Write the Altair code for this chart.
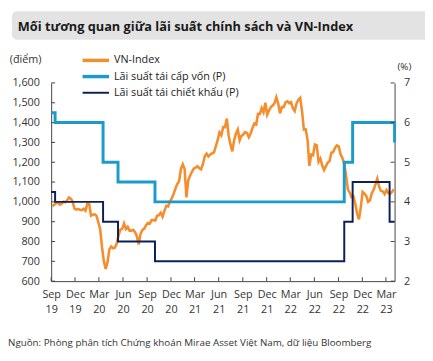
import altair as alt
import pandas as pd

# ---------------- data ----------------
vn_values = [
    # 2019 Sep-Dec
    978, 986, 993, 996, 986, 991, 1001, 998, 1008, 1022, 1016, 1000, 966, 961, 965, 960, 958,
    # 2020
    965, 955, 991, 990, 930, 935, 937, 930, 896, 862, 770, 700, 662,
    696, 760, 775, 766, 769, 790, 830, 860, 864, 891, 863, 874, 855,
    855, 859, 847, 827, 785, 839, 858, 865, 882, 893, 890, 908, 908,
    905, 930, 933, 945, 925, 955, 980, 977, 1003, 1017, 1040, 1067, 1090,
    # 2021
    1104, 1167, 1190, 1166, 1023, 1110, 1132, 1152, 1168, 1172, 1180, 1170, 1164,
    1191, 1231, 1243, 1229, 1239, 1245, 1250, 1280, 1311, 1350, 1336, 1377, 1377,
    1420, 1334, 1290, 1255, 1311, 1345, 1365, 1310, 1333, 1340, 1352, 1348, 1326,
    1345, 1373, 1395, 1390, 1444, 1444, 1473, 1452, 1500, 1440, 1461, 1478, 1486, 1498,
    # 2022
    1528, 1496, 1447, 1478, 1478, 1502, 1507, 1498, 1503, 1472, 1458, 1496,
    1515, 1525, 1458, 1365, 1366, 1313, 1182, 1239, 1235, 1289, 1285, 1202, 1218,
    1183, 1160, 1180, 1198, 1206, 1248, 1252, 1273, 1285, 1280, 1240, 1221, 1192, 1132,
    1062, 1047, 1023, 1028, 991, 941, 912, 971, 1050, 1041, 1030, 1000, 1007,
    # 2023
    1043, 1060, 1088, 1117, 1077, 1055, 1053, 1039, 1060, 1045, 1040, 1050, 1064,
]
vn_dates = pd.date_range("2019-09-06", periods=len(vn_values), freq="W-FRI")

refi_dates = ["2019-09-01", "2019-09-16", "2020-03-17", "2020-05-13", "2020-10-01",
              "2022-09-23", "2022-10-25", "2023-04-03"]
refi_rates = [6.25, 6.0, 5.0, 4.5, 4.0, 5.0, 6.0, 5.5]

disc_dates = ["2019-09-01", "2019-09-16", "2020-03-17", "2020-05-13", "2020-10-01",
              "2022-09-23", "2022-10-25", "2023-03-15", "2023-04-03"]
disc_rates = [4.25, 4.0, 3.5, 3.0, 2.5, 3.5, 4.5, 3.5, 3.5]

left_ticks = [600, 700, 800, 900, 1000, 1100, 1200, 1300, 1400, 1500, 1600]
right_ticks = [2, 3, 4, 5, 6, 7]
x_tick_months = [(2019, 9), (2019, 12), (2020, 3), (2020, 6), (2020, 9), (2020, 12),
                 (2021, 3), (2021, 6), (2021, 9), (2021, 12), (2022, 3), (2022, 6),
                 (2022, 9), (2022, 12), (2023, 3)]

series_names = ["VN-Index", "Lãi suất tái cấp vốn (P)", "Lãi suất tái chiết khấu (P)"]
title_text = "Mối tương quan giữa lãi suất chính sách và VN-Index"
source_text = "Nguồn: Phòng phân tích Chứng khoán Mirae Asset Việt Nam, dữ liệu Bloomberg"

ORANGE = "#F58D2C"
LBLUE = "#1C9AC9"
NAVY = "#0C1F5B"
AXIS_C = "#444444"
FONT = "Open Sans"

vn_df = pd.DataFrame({"date": vn_dates, "value": vn_values})
refi_df = pd.DataFrame({"date": pd.to_datetime(refi_dates), "rate": refi_rates})
disc_df = pd.DataFrame({"date": pd.to_datetime(disc_dates), "rate": disc_rates})
xt_df = pd.DataFrame({"date": [pd.Timestamp(y, m, 1) for y, m in x_tick_months]})
lt_df = pd.DataFrame({"value": left_ticks})
rt_df = pd.DataFrame({"rate": right_ticks})

W, H = 350, 202

x_scale = alt.Scale(domain=[alt.DateTime(year=2019, month=9, date=1),
                            alt.DateTime(year=2023, month=4, date=3)])
x_axis = alt.Axis(
    values=[alt.DateTime(year=y, month=m, date=1) for y, m in x_tick_months],
    labelExpr="[timeFormat(datum.value, '%b'), timeFormat(datum.value, '%y')]",
    ticks=False, grid=False, title=None, labelPadding=8, labelLineHeight=15,
    labelAngle=0, domainColor=AXIS_C, labelFontSize=11, labelFlush=False,
    labelOverlap=False,
)
left_axis = alt.Axis(orient="left", values=left_ticks, format=",.0f", ticks=False,
                     grid=False, title=None, labelPadding=12, domainColor=AXIS_C,
                     labelFontSize=11)
right_axis = alt.Axis(orient="right", values=right_ticks, format=".0f", ticks=False,
                      grid=False, title=None, labelPadding=9, domainColor=AXIS_C,
                      labelFontSize=11)
y_left = alt.Scale(domain=[600, 1600])
y_right = alt.Scale(domain=[2, 7])

vn_line = alt.Chart(vn_df).mark_line(color=ORANGE, strokeWidth=2.6).encode(
    x=alt.X("date:T", scale=x_scale, axis=x_axis),
    y=alt.Y("value:Q", scale=y_left, axis=left_axis),
)
left_tick_marks = alt.Chart(lt_df).mark_rule(color=AXIS_C, strokeWidth=1).encode(
    y=alt.Y("value:Q", scale=y_left, axis=left_axis),
    x=alt.value(0), x2=alt.value(4),
)
bottom_tick_marks = alt.Chart(xt_df).mark_rule(color=AXIS_C, strokeWidth=1).encode(
    x=alt.X("date:T", scale=x_scale, axis=x_axis),
    y=alt.value(H), y2=alt.value(H - 4),
)
left_layer = alt.layer(vn_line, left_tick_marks, bottom_tick_marks)

refi_line = alt.Chart(refi_df).mark_line(color=LBLUE, strokeWidth=3,
                                          interpolate="step-after").encode(
    x=alt.X("date:T", scale=x_scale, axis=x_axis),
    y=alt.Y("rate:Q", scale=y_right, axis=right_axis),
)
disc_line = alt.Chart(disc_df).mark_line(color=NAVY, strokeWidth=2,
                                          interpolate="step-after").encode(
    x=alt.X("date:T", scale=x_scale, axis=x_axis),
    y=alt.Y("rate:Q", scale=y_right, axis=right_axis),
)
right_tick_marks = alt.Chart(rt_df).mark_rule(color=AXIS_C, strokeWidth=1).encode(
    y=alt.Y("rate:Q", scale=y_right, axis=right_axis),
    x=alt.value(W), x2=alt.value(W - 4),
)
right_layer = alt.layer(refi_line, disc_line, right_tick_marks)


def one(text):
    return pd.DataFrame({"t": [text]})


title_box = alt.Chart(one("")).mark_rect(color="#E3E3E3", cornerRadius=5).encode(
    x=alt.value(-40), x2=alt.value(390), y=alt.value(-73), y2=alt.value(-44),
)
title = alt.Chart(one(title_text)).mark_text(
    font=FONT, fontSize=13, fontWeight="bold", color="#1a1a1a", align="left",
    baseline="middle").encode(text="t:N", x=alt.value(-34), y=alt.value(-57))
unit_left = alt.Chart(one("(điểm)")).mark_text(
    font=FONT, fontSize=11, color="#333333", align="center", baseline="middle"
).encode(text="t:N", x=alt.value(-26), y=alt.value(-23))
unit_right = alt.Chart(one("(%)")).mark_text(
    font=FONT, fontSize=10, color="#333333", align="center", baseline="middle"
).encode(text="t:N", x=alt.value(360), y=alt.value(-16))
source = alt.Chart(one(source_text)).mark_text(
    font=FONT, fontSize=10, color="#333333", align="left", baseline="middle"
).encode(text="t:N", x=alt.value(-44), y=alt.value(265))

legend_layers = []
for i, (name, col, sw) in enumerate(zip(series_names, [ORANGE, LBLUE, NAVY], [3.5, 3.5, 2])):
    yy = -23 + i * 16.5
    legend_layers.append(
        alt.Chart(one(name)).mark_rule(color=col, strokeWidth=sw).encode(
            x=alt.value(32), x2=alt.value(59), y=alt.value(yy)))
    legend_layers.append(
        alt.Chart(one(name)).mark_text(font=FONT, fontSize=11, color="#222222",
                                       align="left", baseline="middle").encode(
            text="t:N", x=alt.value(64), y=alt.value(yy)))

chart = alt.layer(
    title_box, left_layer, right_layer, title, unit_left, unit_right, source,
    *legend_layers,
).resolve_scale(y="independent").properties(
    width=W, height=H,
    autosize=alt.AutoSizeParams(type="none"),
    padding={"left": 44, "top": 73, "right": 31, "bottom": 78},
).configure_view(stroke=None).configure_axis(
    labelFont=FONT, labelColor="#333333", domainWidth=1,
)

chart.save("out.html", embed_options={"renderer": "svg", "actions": False})
